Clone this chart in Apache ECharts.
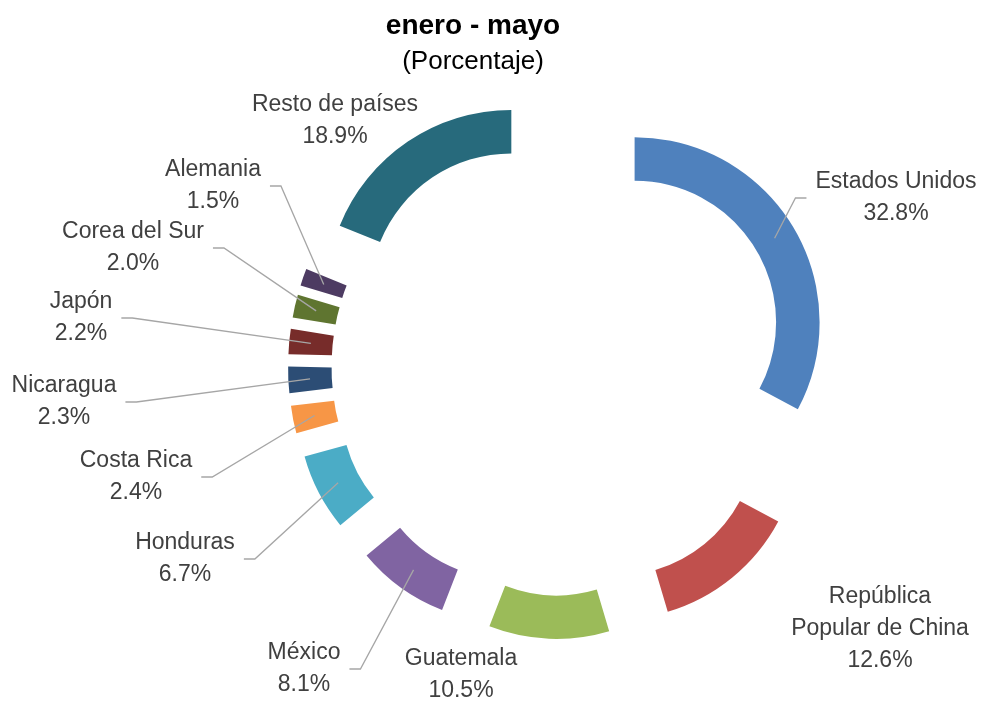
<!DOCTYPE html>
<html>
<head>
<meta charset="utf-8">
<script src="https://cdn.jsdelivr.net/npm/echarts@6/dist/echarts.min.js"></script>
<style>
html,body{margin:0;padding:0;background:#ffffff;}
#chart{width:981px;height:702px;}
</style>
</head>
<body>
<div id="chart"></div>
<script>
// ---- data ----
const categories = ['Estados Unidos', 'República Popular de China', 'Guatemala', 'México', 'Honduras',
  'Costa Rica', 'Nicaragua', 'Japón', 'Corea del Sur', 'Alemania', 'Resto de países'];
const shares = [32.8, 12.6, 10.5, 8.1, 6.7, 2.4, 2.3, 2.2, 2.0, 1.5, 18.9];
const titleText = 'enero - mayo';
const subtitleText = '(Porcentaje)';

// ---- styles / layout ----
const colors = ['#4F81BD', '#C0504D', '#9BBB59', '#8064A2', '#4BACC6', '#F79646',
  '#2C4D75', '#772C2A', '#5F7530', '#4D3B62', '#276A7C'];
const labelCenters = [[896, 198], [880, 629], [461, 675], [304, 669], [185, 559], [136, 477],
  [64, 402], [81, 318], [133, 248], [213, 186], [335, 121]];
const leaderShown = [true, false, false, true, true, true, true, true, true, true, false];
const CX = 560, CY = 367, R_IN = 141.5, R_OUT = 185, EXPLODE = 87;
const FONT = 'Liberation Sans';

const total = shares.reduce((a, b) => a + b, 0);
let acc = 0;
const mids = shares.map(v => { const m = (acc + v / 2) / total * 2 * Math.PI; acc += v; return m; });

const pieBase = {
  type: 'pie',
  silent: true,
  center: [CX, CY],
  radius: [R_IN, R_OUT],
  startAngle: 90,
  clockwise: true,
  avoidLabelOverlap: false,
  emphasis: {disabled: true}
};

const chart = echarts.init(document.getElementById('chart'), null, {renderer: 'canvas'});
chart.setOption({
  animation: false,
  backgroundColor: '#ffffff',
  title: {
    text: titleText,
    subtext: subtitleText,
    left: 473,
    top: 12,
    textAlign: 'center',
    padding: 0,
    itemGap: 9,
    textStyle: {fontFamily: FONT, fontSize: 28, fontWeight: 'bold', color: '#000000'},
    subtextStyle: {fontFamily: FONT, fontSize: 26, color: '#000000'}
  },
  series: [
    // exploded ring (every slice pulled out along its bisector)
    Object.assign({}, pieBase, {
      selectedMode: 'multiple',
      selectedOffset: EXPLODE,
      label: {show: false},
      labelLine: {show: false},
      data: categories.map((n, i) => ({
        name: n, value: shares[i], selected: true, itemStyle: {color: colors[i]}
      }))
    }),
    // label carrier (same data, invisible sectors)
    Object.assign({}, pieBase, {
      z: 3,
      itemStyle: {color: 'rgba(0,0,0,0)'},
      label: {
        show: true,
        position: 'outside',
        fontFamily: FONT,
        fontSize: 23,
        lineHeight: 32,
        color: '#404040',
        align: 'center',
        formatter: p => p.name.replace('República ', 'República\n') + '\n' + p.value.toFixed(1) + '%'
      },
      labelLine: {show: true, lineStyle: {color: '#a6a6a6', width: 1.3}},
      labelLayout: function (p) {
        const i = p.dataIndex;
        const lx = labelCenters[i][0], ly = labelCenters[i][1];
        const res = {x: lx, y: ly, align: 'center', verticalAlign: 'middle'};
        if (leaderShown[i]) {
          const t = mids[i];
          const sx = Math.sin(t), sy = -Math.cos(t);
          const rm = (R_IN + R_OUT) / 2;
          const px = CX + EXPLODE * sx + rm * sx, py = CY + EXPLODE * sy + rm * sy;
          const w = p.labelRect.width;
          const side = lx > px ? -1 : 1;
          const ex = lx + side * (w / 2 + 9);
          const bx = ex + side * 11;
          res.labelLinePoints = [[px, py], [bx, ly], [ex, ly]];
        }
        return res;
      },
      data: categories.map((n, i) => ({
        name: n, value: shares[i], labelLine: {show: leaderShown[i]}
      }))
    })
  ]
});
</script>
</body>
</html>
